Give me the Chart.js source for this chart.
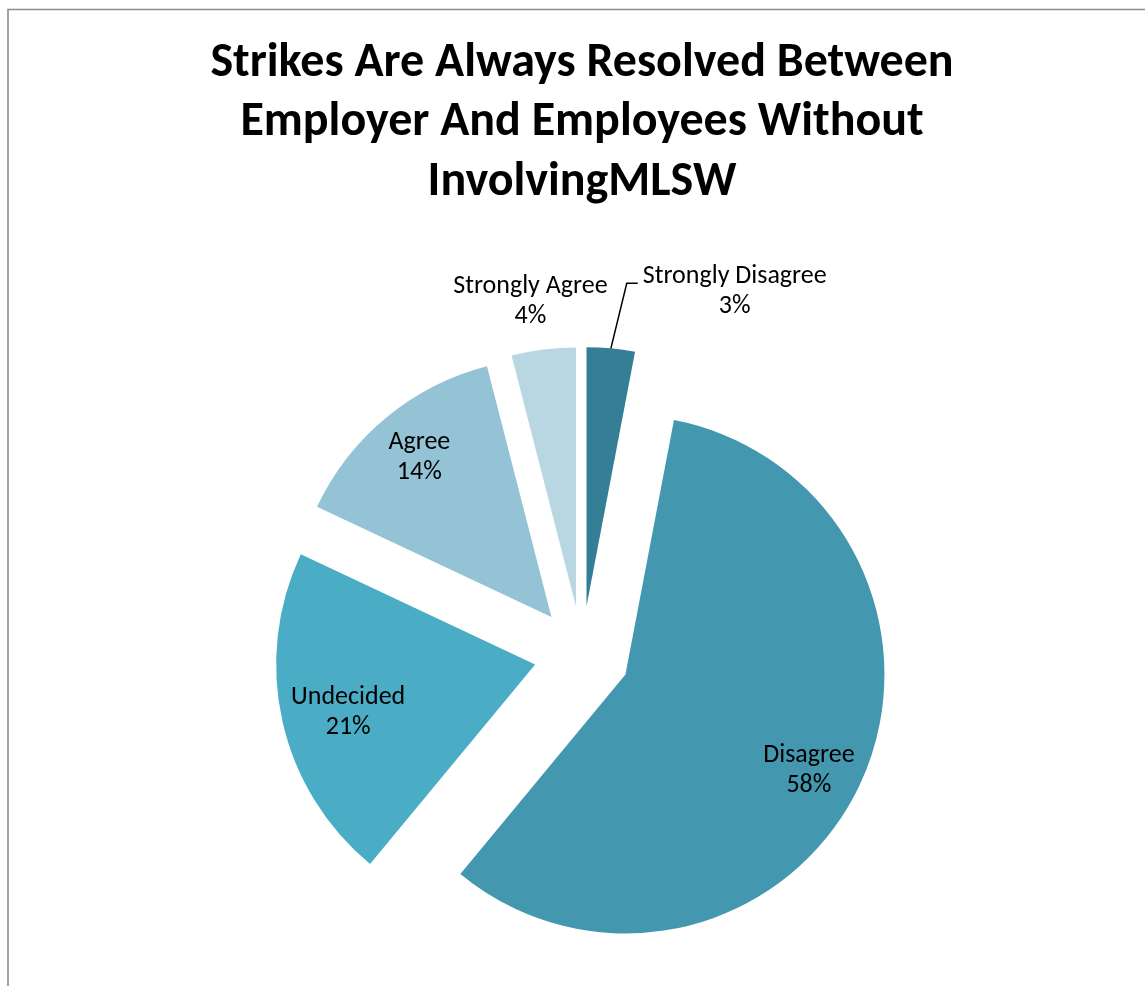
<!DOCTYPE html>
<html>
<head>
<meta charset="utf-8">
<title>Strikes resolution survey</title>
<script src="https://cdn.jsdelivr.net/npm/chart.js@4.4.1/dist/chart.umd.min.js"></script>
<style>
  html, body { margin: 0; padding: 0; background: #fff; }
  #wrap { width: 1145px; height: 986px; }
</style>
</head>
<body>
<div id="wrap"><canvas id="pieChart" width="1145" height="986"></canvas></div>
<script>
// survey answers, clockwise from 12 o'clock
const answers = ['Strongly Disagree', 'Disagree', 'Undecided', 'Agree', 'Strongly Agree'];
const shares = [3, 58, 21, 14, 4];
const sliceColors = ['#357f96', '#4398b0', '#4bacc6', '#93c3d5', '#b9d7e3'];
const titleLines = [
  'Strikes Are Always Resolved Between',
  'Employer And Employees Without',
  'InvolvingMLSW'
];

// how far every slice is pulled out of the pie (px)
const EXPLODE = 48;
// label spot per slice: fraction of the radius and extra turn (deg)
const labelRadius = [1.344, 0.80, 0.745, 0.80, 1.19];
const labelTurn = [19.8, 2.5, -1.7, 0, -1.3];

const FONT = 'Calibri, Carlito, Lato, "Open Sans", sans-serif';

// moves each arc outwards along its middle angle
const explodePlugin = {
  id: 'explode',
  afterDatasetsUpdate(chart) {
    chart.getDatasetMeta(0).data.forEach((arc) => {
      const mid = (arc.startAngle + arc.endAngle) / 2;
      arc.x += Math.cos(mid) * EXPLODE;
      arc.y += Math.sin(mid) * EXPLODE;
    });
  }
};

// grey frame round the chart
const framePlugin = {
  id: 'frame',
  beforeDraw(chart) {
    const ctx = chart.ctx;
    ctx.save();
    ctx.strokeStyle = '#8c8c8c';
    ctx.lineWidth = 1.6;
    ctx.beginPath();
    ctx.moveTo(8, chart.height);
    ctx.lineTo(8, 9.5);
    ctx.lineTo(chart.width, 9.5);
    ctx.stroke();
    ctx.restore();
  }
};

// category name + percentage on (or next to) each slice
const sliceLabels = {
  id: 'sliceLabels',
  afterDatasetsDraw(chart) {
    const ctx = chart.ctx;
    const arcs = chart.getDatasetMeta(0).data;
    ctx.save();
    ctx.font = '26px ' + FONT;
    ctx.fillStyle = '#000';
    ctx.textAlign = 'center';
    ctx.textBaseline = 'middle';
    arcs.forEach((arc, i) => {
      const mid = (arc.startAngle + arc.endAngle) / 2;
      const a = mid + labelTurn[i] * Math.PI / 180;
      const d = arc.outerRadius * labelRadius[i];
      const lx = arc.x + Math.cos(a) * d;
      const ly = arc.y + Math.sin(a) * d;
      ctx.fillText(answers[i], lx, ly - 15);
      ctx.fillText(shares[i] + '%', lx, ly + 15);

      // leader line when the label sits away from its slice
      if (labelRadius[i] > 1 && labelTurn[i] > 5) {
        const w = ctx.measureText(answers[i]).width;
        const left = lx - w / 2;
        ctx.strokeStyle = '#000';
        ctx.lineWidth = 1.5;
        ctx.beginPath();
        ctx.moveTo(arc.x + Math.cos(mid) * arc.outerRadius, arc.y + Math.sin(mid) * arc.outerRadius);
        ctx.lineTo(left - 16, ly - 8);
        ctx.lineTo(left - 5, ly - 8);
        ctx.stroke();
      }
    });
    ctx.restore();
  }
};

new Chart(document.getElementById('pieChart'), {
  type: 'pie',
  data: {
    labels: answers,
    datasets: [{
      data: shares,
      backgroundColor: sliceColors,
      borderWidth: 0
    }]
  },
  options: {
    responsive: false,
    devicePixelRatio: 1,
    animation: false,
    events: [],
    radius: 259,
    layout: { padding: { left: 19, right: 0, top: 0, bottom: 0 } },
    plugins: {
      legend: { display: false },
      tooltip: { enabled: false },
      title: {
        display: true,
        text: titleLines,
        color: '#000',
        font: { family: FONT, size: 48, weight: 'bold', lineHeight: '59.5px' },
        padding: { top: 34, bottom: 109.5 }
      }
    }
  },
  plugins: [explodePlugin, framePlugin, sliceLabels]
});
</script>
</body>
</html>
